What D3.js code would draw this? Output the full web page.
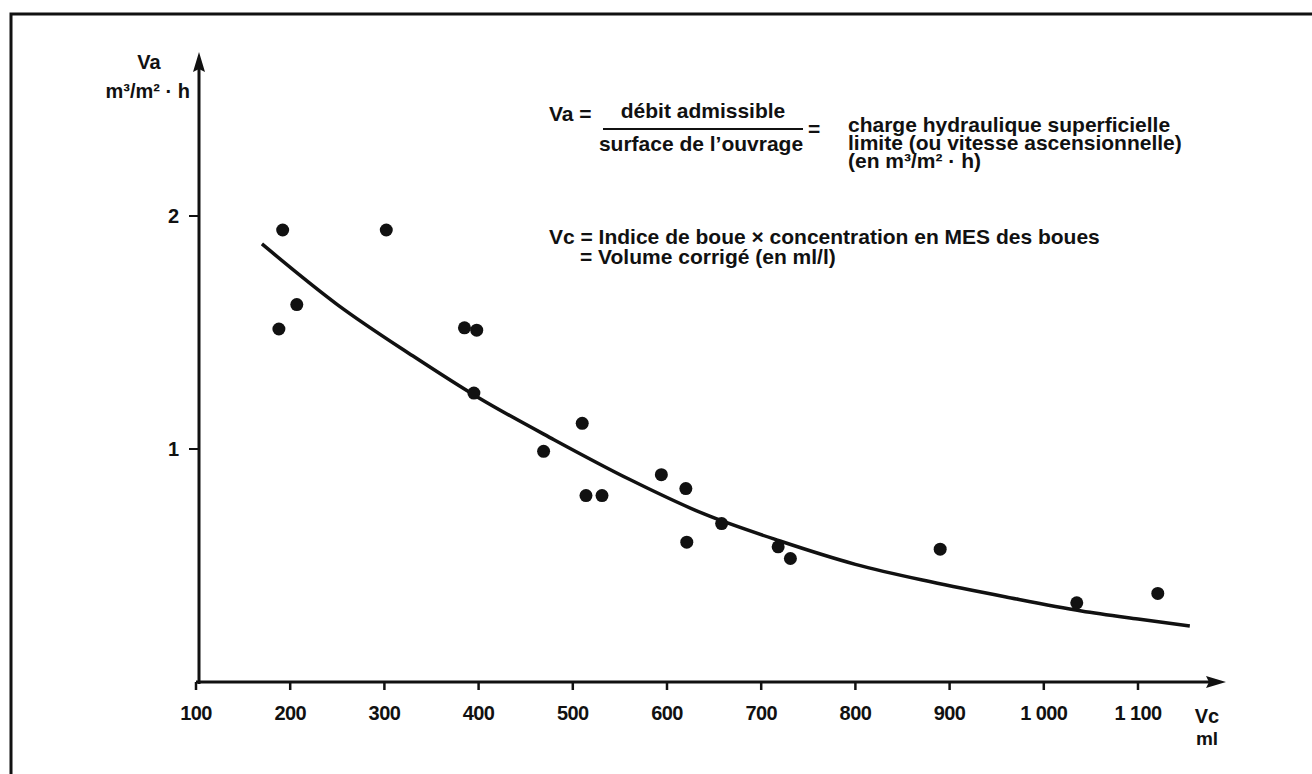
<!DOCTYPE html>
<html>
<head>
<meta charset="utf-8">
<script src="https://cdn.jsdelivr.net/npm/d3@7"></script>
<style>
  body { margin: 0; background: #fff; }
  svg text { font-family: "Liberation Sans", Arial, sans-serif; font-weight: bold; fill: #111; }
</style>
</head>
<body>
<div id="chart"></div>
<script>
// data
const vcTicks = [100, 200, 300, 400, 500, 600, 700, 800, 900, 1000, 1100];
const vcTickLabels = ["100", "200", "300", "400", "500", "600", "700", "800", "900", "1 000", "1 100"];
const vaTicks = [1, 2];

// measured points (Vc in ml, Va in m3/m2.h)
const pointVc = [188, 192, 207, 302, 385, 398, 395, 469, 510, 514, 531, 594, 620, 621, 658, 718, 731, 890, 1035, 1121];
const pointVa = [1.515, 1.94, 1.62, 1.94, 1.52, 1.51, 1.24, 0.99, 1.11, 0.80, 0.80, 0.89, 0.83, 0.60, 0.68, 0.58, 0.53, 0.57, 0.34, 0.38];

// fitted curve, read at a few places
const curveVc = [170, 250, 330, 400, 480, 560, 640, 720, 800, 880, 960, 1040, 1100, 1155];
const curveVa = [1.88, 1.62, 1.40, 1.22, 1.04, 0.87, 0.72, 0.605, 0.505, 0.43, 0.365, 0.305, 0.27, 0.24];

class VaChart {
  constructor(parentElement) {
    this.parentElement = parentElement;
    this.initVis();
  }

  initVis() {
    let vis = this;

    vis.width = 1312;
    vis.height = 774;
    vis.ink = "#111";

    vis.svg = d3
      .select(`#${vis.parentElement}`)
      .append("svg")
      .attr("width", vis.width)
      .attr("height", vis.height);

    // frame of the page (left and top only, like the scan)
    vis.svg.append("path")
      .attr("d", "M11,774 L11,14 L1312,14")
      .attr("fill", "none")
      .attr("stroke", vis.ink)
      .attr("stroke-width", 3);

    vis.x = d3.scaleLinear().domain([100, 1100]).range([196, 1138]);
    vis.y = d3.scaleLinear().domain([0, 2]).range([682, 216]);

    // axes with arrow heads
    const x0 = vis.x(100), y0 = vis.y(0);
    vis.svg.append("line")
      .attr("x1", x0).attr("y1", y0).attr("x2", 1216).attr("y2", y0)
      .attr("stroke", vis.ink).attr("stroke-width", 3);
    vis.svg.append("path")
      .attr("d", `M1226,${y0} L1206,${y0 - 6} L1209,${y0} L1206,${y0 + 6} Z`)
      .attr("fill", vis.ink);

    vis.svg.append("line")
      .attr("x1", x0 + 3).attr("y1", y0 + 2).attr("x2", x0 + 3).attr("y2", 64)
      .attr("stroke", vis.ink).attr("stroke-width", 3);
    vis.svg.append("path")
      .attr("d", `M${x0 + 3},52 L${x0 - 3},72 L${x0 + 3},69 L${x0 + 9},72 Z`)
      .attr("fill", vis.ink);

    // x ticks
    let xt = vis.svg.append("g").selectAll(".xtick")
      .data(vcTicks)
      .enter()
      .append("g")
      .attr("class", "xtick")
      .attr("transform", (d) => `translate(${vis.x(d)},${y0})`);
    xt.append("line").attr("y1", 0).attr("y2", 8).attr("stroke", vis.ink).attr("stroke-width", 2.5);
    xt.append("text")
      .attr("y", 38)
      .attr("text-anchor", "middle")
      .attr("font-size", "20px")
      .attr("letter-spacing", "-0.6px")
      .text((d, i) => vcTickLabels[i]);

    // y ticks
    let yt = vis.svg.append("g").selectAll(".ytick")
      .data(vaTicks)
      .enter()
      .append("g")
      .attr("class", "ytick")
      .attr("transform", (d) => `translate(${x0 + 3},${vis.y(d)})`);
    yt.append("line").attr("x1", 0).attr("x2", -10).attr("stroke", vis.ink).attr("stroke-width", 2);
    yt.append("text")
      .attr("x", -20)
      .attr("y", 7)
      .attr("text-anchor", "end")
      .attr("font-size", "20px")
      .text((d) => d);

    // axis titles
    vis.svg.append("text").attr("x", 149).attr("y", 69).attr("text-anchor", "middle").attr("font-size", "20px").text("Va");
    vis.svg.append("text").attr("x", 190).attr("y", 98).attr("text-anchor", "end").attr("font-size", "20px").text("m³/m² · h");
    vis.svg.append("text").attr("x", 1207).attr("y", 723).attr("text-anchor", "middle").attr("font-size", "20px").text("Vc");
    vis.svg.append("text").attr("x", 1207).attr("y", 745).attr("text-anchor", "middle").attr("font-size", "19px").text("ml");

    // formula block
    let f = vis.svg.append("g").attr("font-size", "21px");
    f.append("text").attr("x", 549).attr("y", 121).text("Va =");
    f.append("text").attr("x", 703).attr("y", 118).attr("text-anchor", "middle").text("débit admissible");
    f.append("line").attr("x1", 603).attr("x2", 803).attr("y1", 129).attr("y2", 129).attr("stroke", vis.ink).attr("stroke-width", 2);
    f.append("text").attr("x", 701).attr("y", 151).attr("text-anchor", "middle").text("surface de l’ouvrage");
    f.append("text").attr("x", 808).attr("y", 136).text("=");
    f.append("text").attr("x", 848).attr("y", 132).text("charge hydraulique superficielle");
    f.append("text").attr("x", 848).attr("y", 150).text("limite (ou vitesse ascensionnelle)");
    f.append("text").attr("x", 848).attr("y", 168).text("(en m³/m² · h)");
    f.append("text").attr("x", 549).attr("y", 244).text("Vc = Indice de boue × concentration en MES des boues");
    f.append("text").attr("x", 580).attr("y", 264).text("= Volume corrigé (en ml/l)");

    vis.updateVis();
  }

  updateVis() {
    let vis = this;

    const curveData = curveVc.map((v, i) => [v, curveVa[i]]);
    const line = d3.line()
      .x((d) => vis.x(d[0]))
      .y((d) => vis.y(d[1]))
      .curve(d3.curveMonotoneX);

    vis.svg.append("path")
      .datum(curveData)
      .attr("d", line)
      .attr("fill", "none")
      .attr("stroke", vis.ink)
      .attr("stroke-width", 3.5);

    vis.svg.append("g").selectAll(".dot")
      .data(pointVc.map((v, i) => ({ vc: v, va: pointVa[i] })))
      .enter()
      .append("circle")
      .attr("class", "dot")
      .attr("cx", (d) => vis.x(d.vc))
      .attr("cy", (d) => vis.y(d.va))
      .attr("r", 6.5)
      .attr("fill", vis.ink);
  }
}

new VaChart("chart");
</script>
</body>
</html>
